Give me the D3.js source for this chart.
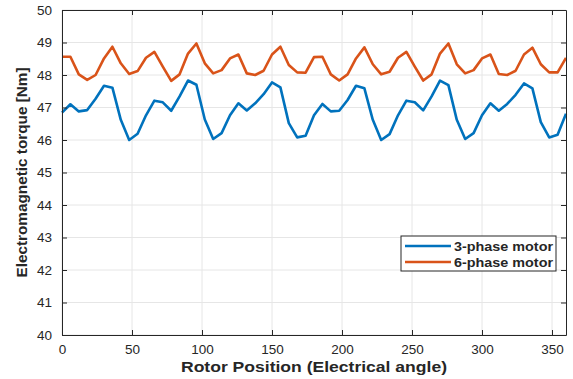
<!DOCTYPE html>
<html>
<head>
<meta charset="utf-8">
<script src="https://cdn.jsdelivr.net/npm/d3@7"></script>
<style>
  body { margin: 0; background: #fff; }
  text { font-family: "Liberation Sans", Arial, sans-serif; }
</style>
</head>
<body>
<svg id="chart"></svg>
<script>
// rotor angle, 6 degree steps
const angles = d3.range(0, 361, 6)

const threePhase = [
  46.84, 47.10, 46.88, 46.92, 47.27, 47.67, 47.61, 46.62, 46.00, 46.19,
  46.76, 47.21, 47.16, 46.90, 47.34, 47.83, 47.70, 46.63, 46.03, 46.21,
  46.76, 47.13, 46.91, 47.13, 47.41, 47.77, 47.62, 46.52, 46.08, 46.13,
  46.76, 47.11, 46.88, 46.90, 47.23, 47.67, 47.59, 46.62, 46.00, 46.18,
  46.76, 47.21, 47.16, 46.91, 47.34, 47.83, 47.69, 46.62, 46.03, 46.21,
  46.76, 47.13, 46.90, 47.11, 47.39, 47.74, 47.59, 46.55, 46.08, 46.16,
  46.81
]

const sixPhase = [
  48.56, 48.56, 48.02, 47.85, 48.00, 48.51, 48.87, 48.36, 48.03, 48.12,
  48.53, 48.71, 48.26, 47.82, 48.02, 48.66, 48.97, 48.36, 48.05, 48.15,
  48.51, 48.63, 48.05, 48.00, 48.13, 48.63, 48.87, 48.31, 48.08, 48.07,
  48.55, 48.56, 48.02, 47.83, 48.02, 48.51, 48.85, 48.33, 48.02, 48.10,
  48.53, 48.71, 48.26, 47.83, 48.02, 48.66, 48.97, 48.33, 48.05, 48.15,
  48.51, 48.63, 48.03, 48.00, 48.13, 48.63, 48.84, 48.33, 48.08, 48.08,
  48.53
]

const xTicks = [0, 50, 100, 150, 200, 250, 300, 350]
const yTicks = d3.range(40, 51, 1)
const seriesNames = ['3-phase motor', '6-phase motor']
const colors = ['#0072BD', '#D95319']

const width = 573
const height = 379
const margin = { top: 10, right: 7, bottom: 44, left: 62 }

const svg = d3.select('svg#chart')
  .attr('width', width)
  .attr('height', height)

const x = d3.scaleLinear().domain([0, 360]).range([margin.left, width - margin.right])
const y = d3.scaleLinear().domain([40, 50]).range([height - margin.bottom, margin.top])

const axisColor = '#262626'

// grid
const grid = svg.append('g').attr('stroke', '#e6e6e6').attr('stroke-width', 1)
grid.selectAll('.vx').data(xTicks).enter().append('line')
  .attr('x1', d => x(d)).attr('x2', d => x(d))
  .attr('y1', y(40)).attr('y2', y(50))
grid.selectAll('.hy').data(yTicks).enter().append('line')
  .attr('x1', x(0)).attr('x2', x(360))
  .attr('y1', d => y(d)).attr('y2', d => y(d))

// lines
const line = d3.line().x((d, i) => x(angles[i])).y(d => y(d))
const series = [threePhase, sixPhase]
svg.append('g').selectAll('path').data(series).enter().append('path')
  .attr('d', d => line(d))
  .attr('fill', 'none')
  .attr('stroke', (d, i) => colors[i])
  .attr('stroke-width', 2.6)
  .attr('stroke-linejoin', 'round')

// axes (ticks inward)
const xAxis = d3.axisBottom(x).tickValues(xTicks).tickSizeInner(-5).tickSizeOuter(0).tickPadding(9)
const yAxis = d3.axisLeft(y).tickValues(yTicks).tickSizeInner(-5).tickSizeOuter(0).tickPadding(9)

const gx = svg.append('g').attr('transform', `translate(0,${y(40)})`).call(xAxis)
const gy = svg.append('g').attr('transform', `translate(${x(0)},0)`).call(yAxis)
const gxTop = svg.append('g').attr('transform', `translate(0,${y(50)})`)
  .call(d3.axisTop(x).tickValues(xTicks).tickSizeInner(-5).tickSizeOuter(0).tickFormat(''))
const gyRight = svg.append('g').attr('transform', `translate(${x(360)},0)`)
  .call(d3.axisRight(y).tickValues(yTicks).tickSizeInner(-5).tickSizeOuter(0).tickFormat(''))

;[gx, gy, gxTop, gyRight].forEach(g => {
  g.select('.domain').attr('stroke', axisColor).attr('stroke-width', 1)
  g.selectAll('.tick line').attr('stroke', axisColor)
  g.selectAll('.tick text').attr('fill', axisColor).style('font-size', '13.5px')
})
gy.selectAll('.tick text').attr('dx', '-1')

// axis labels (reference text is stretched horizontally)
svg.append('text')
  .attr('x', (x(0) + x(360)) / 2)
  .attr('y', 372)
  .attr('text-anchor', 'middle')
  .attr('font-weight', 'bold')
  .attr('font-size', 15)
  .attr('textLength', 266)
  .attr('lengthAdjust', 'spacingAndGlyphs')
  .attr('fill', axisColor)
  .text('Rotor Position (Electrical angle)')

svg.append('text')
  .attr('transform', `translate(27,${(y(40) + y(50)) / 2}) rotate(-90)`)
  .attr('text-anchor', 'middle')
  .attr('font-weight', 'bold')
  .attr('font-size', 15)
  .attr('textLength', 210)
  .attr('lengthAdjust', 'spacingAndGlyphs')
  .attr('fill', axisColor)
  .text('Electromagnetic torque [Nm]')

// legend
const legend = svg.append('g').attr('transform', 'translate(401,236)')
legend.append('rect')
  .attr('width', 155).attr('height', 35)
  .attr('fill', '#fff').attr('stroke', axisColor).attr('stroke-width', 1)
const items = legend.selectAll('.item').data(seriesNames).enter().append('g')
  .attr('transform', (d, i) => `translate(0,${10 + i * 16})`)
items.append('line')
  .attr('x1', 4).attr('x2', 50)
  .attr('stroke', (d, i) => colors[i]).attr('stroke-width', 2.6)
items.append('text')
  .attr('x', 53).attr('dy', '0.35em')
  .attr('font-weight', 'bold').attr('font-size', 13)
  .attr('textLength', 99)
  .attr('lengthAdjust', 'spacingAndGlyphs')
  .attr('fill', axisColor)
  .text(d => d)
</script>
</body>
</html>
